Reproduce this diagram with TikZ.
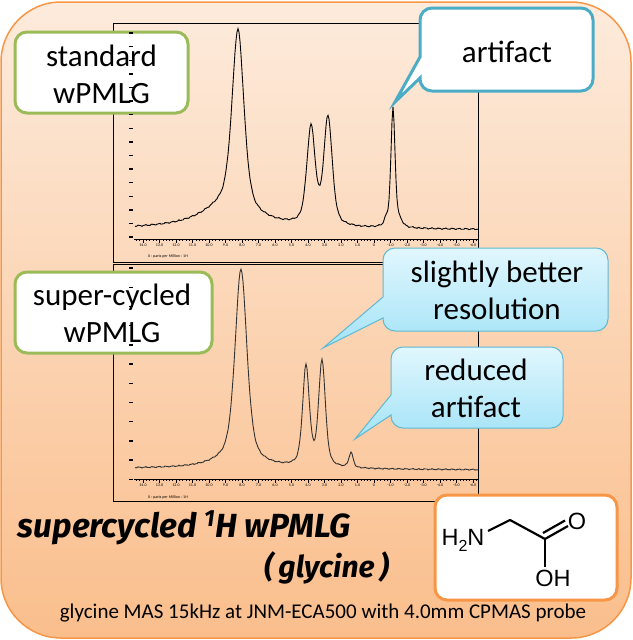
\documentclass[tikz,border=0pt]{standalone}
\usepackage{fontspec}
\usepackage{graphicx}
\setmainfont{Carlito}
\newfontfamily\titlefont{Fira Sans}
\newfontfamily\molfont{Liberation Sans}
\definecolor{bgtop}{RGB}{253,235,220}
\definecolor{bgbot}{RGB}{250,190,140}
\definecolor{bgline}{RGB}{247,150,70}
\definecolor{greenb}{RGB}{155,187,89}
\definecolor{blueb}{RGB}{75,172,198}
\definecolor{cyantop}{RGB}{225,247,254}
\definecolor{cyanbot}{RGB}{163,227,247}
\definecolor{cyanline}{RGB}{95,185,210}
\newcommand\calloutpath[8]{(#1+12,#2) -- (#3-12,#2) arc[start angle=-90,end angle=0,radius=12] -- (#3,#4-12) arc[start angle=0,end angle=90,radius=12] -- (#1+12,#4) arc[start angle=90,end angle=180,radius=12] -- (#1,#6) -- (#7,#8) -- (#1,#5) -- (#1,#2+12) arc[start angle=180,end angle=270,radius=12] -- cycle}
\tikzset{
  declare function={
    pv(\a,\c,\w,\t)=\a*(0.5*exp(-0.693*(min(abs((\t-\c)/\w),6))^2)+0.5/(1+(min(abs((\t-\c)/\w),120))^2));
    lor(\a,\c,\w,\t)=\a/(1+(min(abs((\t-\c)/\w),120))^2);
  },
  frame/.style={draw=black, line width=0.8},
  spec/.style={line width=0.9, black},
  labelbox/.style={draw=greenb, line width=3, fill=white, rounded corners=12},
  whitecallout/.style={draw=blueb, line width=3, fill=white},
  cyancallout/.style={draw=cyanline, line width=1, top color=cyantop, bottom color=cyanbot},
  bigtext/.style={font=\fontsize{31}{37}\selectfont, align=center, inner sep=0, text=black},
  ticklab/.style={font=\fontsize{4}{4}\selectfont, inner sep=0},
  ytick/.style={line width=1.4, black},
  bond/.style={line width=2.2, black},
  mol/.style={font=\molfont\fontsize{23.5}{23.5}\selectfont, inner sep=0}
}
\begin{document}
\begin{tikzpicture}[x=1pt,y=-1pt]
\useasboundingbox (0,0) rectangle (632,640);
% background slide
\draw[draw=bgline, line width=1.5, top color=bgtop, bottom color=bgbot, rounded corners=60] (1,2) rectangle (631,638);

% spectrum frames
\draw[frame] (113,23) rectangle (478,262);
\draw[frame] (113,264) rectangle (478,501);
% x axes
\draw[frame] (134,239.5) -- (478,239.5);
\draw[frame] (134,479.5) -- (478,479.5);
\foreach \m in {-2,...,101} {
  \draw[line width=0.5] (143+3.3*\m,239.5) -- (143+3.3*\m,241);
  \draw[line width=0.5] (143+3.3*\m,479.5) -- (143+3.3*\m,481);
}
\foreach \lab [count=\k from 0] in {14.0,13.0,12.0,11.0,10.0,9.0,8.0,7.0,6.0,5.0,4.0,3.0,2.0,1.0,0,-1.0,-2.0,-3.0,-4.0,-5.0,-6.0} {
  \draw[line width=0.6] (143+16.5*\k,239.5) -- (143+16.5*\k,242.5);
  \draw[line width=0.6] (143+16.5*\k,479.5) -- (143+16.5*\k,482.5);
  \node[ticklab] (xa\k) at (143+16.5*\k,245.5) {\lab};
  \node[ticklab] (xb\k) at (143+16.5*\k,485.5) {\lab};
}
\node[ticklab, anchor=west] (xlabA) at (148,256) {X : parts per Million : 1H};
\node[ticklab, anchor=west] (xlabB) at (148,497) {X : parts per Million : 1H};

% spectra
\draw[spec] plot[domain=135:478, samples=344] (\x, {229+0.002*(\x-135) - pv(178,238,7,\x) - lor(24,228,32,\x) - pv(97,311,5,\x) - pv(108,328,5,\x) - pv(120,393,2.5,\x) - pv(6,386,2,\x) - pv(5,400,3,\x) + 0.5*sin(53*mod(\x,60)) + 0.3*sin(131*mod(\x,100))});
\draw[spec, draw={rgb,255:red,50;green,50;blue,50}] plot[domain=135:478, samples=344] (\x, {468.5+0.004*(\x-135) - pv(190,241,7,\x) - lor(10,236,25,\x) - pv(100,306,4,\x) - pv(106,322,4,\x) - pv(15,351,2.5,\x) + 0.4*sin(53*mod(\x,60)) + 0.3*sin(131*mod(\x,100))});

% label boxes
\draw[labelbox] (15,32) rectangle (188,113);
\node[bigtext] (std) at (101.5,74) {standard\\wPMLG};
\draw[labelbox] (15,272) rectangle (212,353);
\node[bigtext] (sup) at (112,313) {super-cycled\\wPMLG};

% y ticks (drawn over boxes as in the reference)
\foreach \k in {0,...,15} \draw[ytick] (129,33+13.6*\k) -- (133,33+13.6*\k);
\foreach \k in {0,...,11} \draw[ytick] (129,268+19.2*\k) -- (133,268+19.2*\k);

% callouts
\draw[whitecallout] \calloutpath{420}{8}{593}{91}{57}{78}{395}{102};
\node[bigtext] (art) at (507,52) {artifact};
\draw[cyancallout] \calloutpath{383}{248}{608}{331}{297}{318}{323}{348};
\node[bigtext] (res) at (497,290) {slightly better\\resolution};
\draw[cyancallout] \calloutpath{391}{347}{563}{428}{395}{415}{355}{439};
\node[bigtext] (red) at (476,388) {reduced\\artifact};

% glycine box
\draw[draw=bgline, line width=3, fill=white, rounded corners=12] (435,495) rectangle (617,600);
\node[mol] (N) at (463,540) {H\raisebox{-0.25em}{\fontsize{16}{16}\selectfont 2}N};
\node[mol] (O) at (577,521) {O};
\node[mol] (OH) at (553,578) {OH};
\coordinate (Nb) at (488,531);
\coordinate (C1) at (510,520);
\coordinate (C2) at (545,539);
\coordinate (Ob) at (568,526);
\coordinate (Ob2) at (565,520.5);
\coordinate (C2b) at (543,533);
\coordinate (OHb) at (545,567);
\draw[bond, line join=round] (Nb) -- (C1) -- (C2) -- (Ob);
\draw[bond] (C2b) -- (Ob2);
\draw[bond] (C2) -- (OHb);

% titles
\node[inner sep=0] (title) at (184.5,528) {\resizebox{333pt}{!}{\titlefont\fontsize{28}{30}\selectfont\bfseries\itshape supercycled \textsuperscript{1}H wPMLG}};
\node[inner sep=0] (gly) at (326.5,568) {\resizebox{125pt}{!}{\titlefont\fontsize{28}{30}\selectfont\bfseries\itshape (\,glycine\,)}};
\node[inner sep=0, font=\fontsize{21}{24}\selectfont] (foot) at (323,613) {glycine MAS 15kHz at JNM-ECA500 with 4.0mm CPMAS probe};
\end{tikzpicture}
\end{document}
